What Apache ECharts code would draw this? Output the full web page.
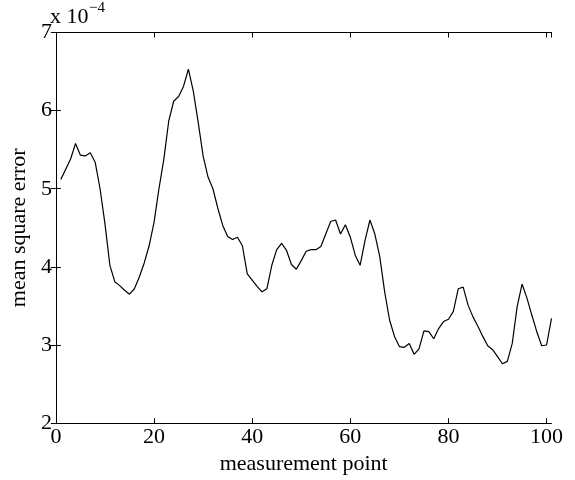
<!DOCTYPE html>
<html>
<head>
<meta charset="utf-8">
<script src="https://cdn.jsdelivr.net/npm/echarts@6/dist/echarts.min.js"></script>
<style>html,body{margin:0;padding:0;background:#fff;}#c{width:575px;height:480px;}</style>
</head>
<body>
<div id="c"></div>
<script>
// measurement points 1..101, mean square error in units of 1e-4
const xValues = Array.from({length: 101}, (_, i) => i + 1);
const mseValues = [
  5.12, 5.25, 5.38, 5.58, 5.43, 5.42, 5.46, 5.34, 5.00, 4.55,
  4.02, 3.81, 3.76, 3.70, 3.65, 3.72, 3.87, 4.05, 4.27, 4.57,
  5.00, 5.38, 5.87, 6.12, 6.18, 6.31, 6.53, 6.25, 5.85, 5.42,
  5.15, 5.00, 4.75, 4.53, 4.39, 4.35, 4.38, 4.27, 3.91, 3.83,
  3.75, 3.68, 3.72, 4.02, 4.22, 4.30, 4.21, 4.03, 3.97, 4.08,
  4.20, 4.22, 4.22, 4.26, 4.42, 4.58, 4.60, 4.42, 4.54, 4.38,
  4.15, 4.02, 4.34, 4.60, 4.42, 4.13, 3.68, 3.32, 3.11, 2.98,
  2.97, 3.02, 2.88, 2.95, 3.18, 3.17, 3.08, 3.21, 3.30, 3.33,
  3.43, 3.72, 3.74, 3.51, 3.36, 3.24, 3.11, 2.99, 2.94, 2.85,
  2.76, 2.79, 3.02, 3.49, 3.78, 3.60, 3.38, 3.17, 2.99, 3.00,
  3.34
];
const xTicks = [0, 20, 40, 60, 80, 100];
const yTicks = [2, 3, 4, 5, 6, 7];
const xLabel = 'measurement point';
const yLabel = 'mean square error';

const font = 'Liberation Serif, Times New Roman, serif';
const chart = echarts.init(document.getElementById('c'));
const axisCommon = {
  axisLine: {show: true, lineStyle: {color: '#000', width: 1}},
  axisTick: {show: true, inside: true, length: 5, lineStyle: {color: '#000'}},
  splitLine: {show: false}
};
const xFmt = v => xTicks.includes(v) ? String(v) : '';
chart.setOption({
  animation: false,
  grid: {left: 50.5, right: 23.5, top: 32.5, bottom: 54.5, containLabel: false},
  xAxis: [
    Object.assign({}, axisCommon, {
      type: 'value', min: 0, max: 101, interval: 20, position: 'bottom',
      axisLabel: {fontFamily: font, fontSize: 22, color: '#000', margin: 3, formatter: xFmt, showMaxLabel: false},
      name: xLabel, nameLocation: 'middle', nameGap: 27,
      nameTextStyle: {fontFamily: font, fontSize: 22, color: '#000'}
    }),
    Object.assign({}, axisCommon, {
      type: 'value', min: 0, max: 101, interval: 20, position: 'top',
      axisLabel: {show: false}
    })
  ],
  yAxis: [
    Object.assign({}, axisCommon, {
      type: 'value', min: 2, max: 7, interval: 1, position: 'left',
      axisLabel: {fontFamily: font, fontSize: 22, color: '#000', margin: 4,
        formatter: v => yTicks.includes(v) ? String(v) : ''},
      name: yLabel, nameLocation: 'middle', nameGap: 23,
      nameTextStyle: {fontFamily: font, fontSize: 22, color: '#000'}
    }),
    Object.assign({}, axisCommon, {
      type: 'value', min: 2, max: 7, interval: 1, position: 'right',
      axisLabel: {show: false}
    })
  ],
  graphic: [
    {type: 'text', left: 50, top: 6,
     style: {text: 'x 10', font: '22px ' + font, fill: '#000'}},
    {type: 'text', left: 89, top: 1,
     style: {text: '\u22124', font: '15px ' + font, fill: '#000'}}
  ],
  series: [{
    type: 'line',
    data: xValues.map((x, i) => [x, mseValues[i]]),
    showSymbol: false,
    lineStyle: {color: '#000', width: 1.2},
    clip: true
  }]
});
</script>
</body>
</html>
